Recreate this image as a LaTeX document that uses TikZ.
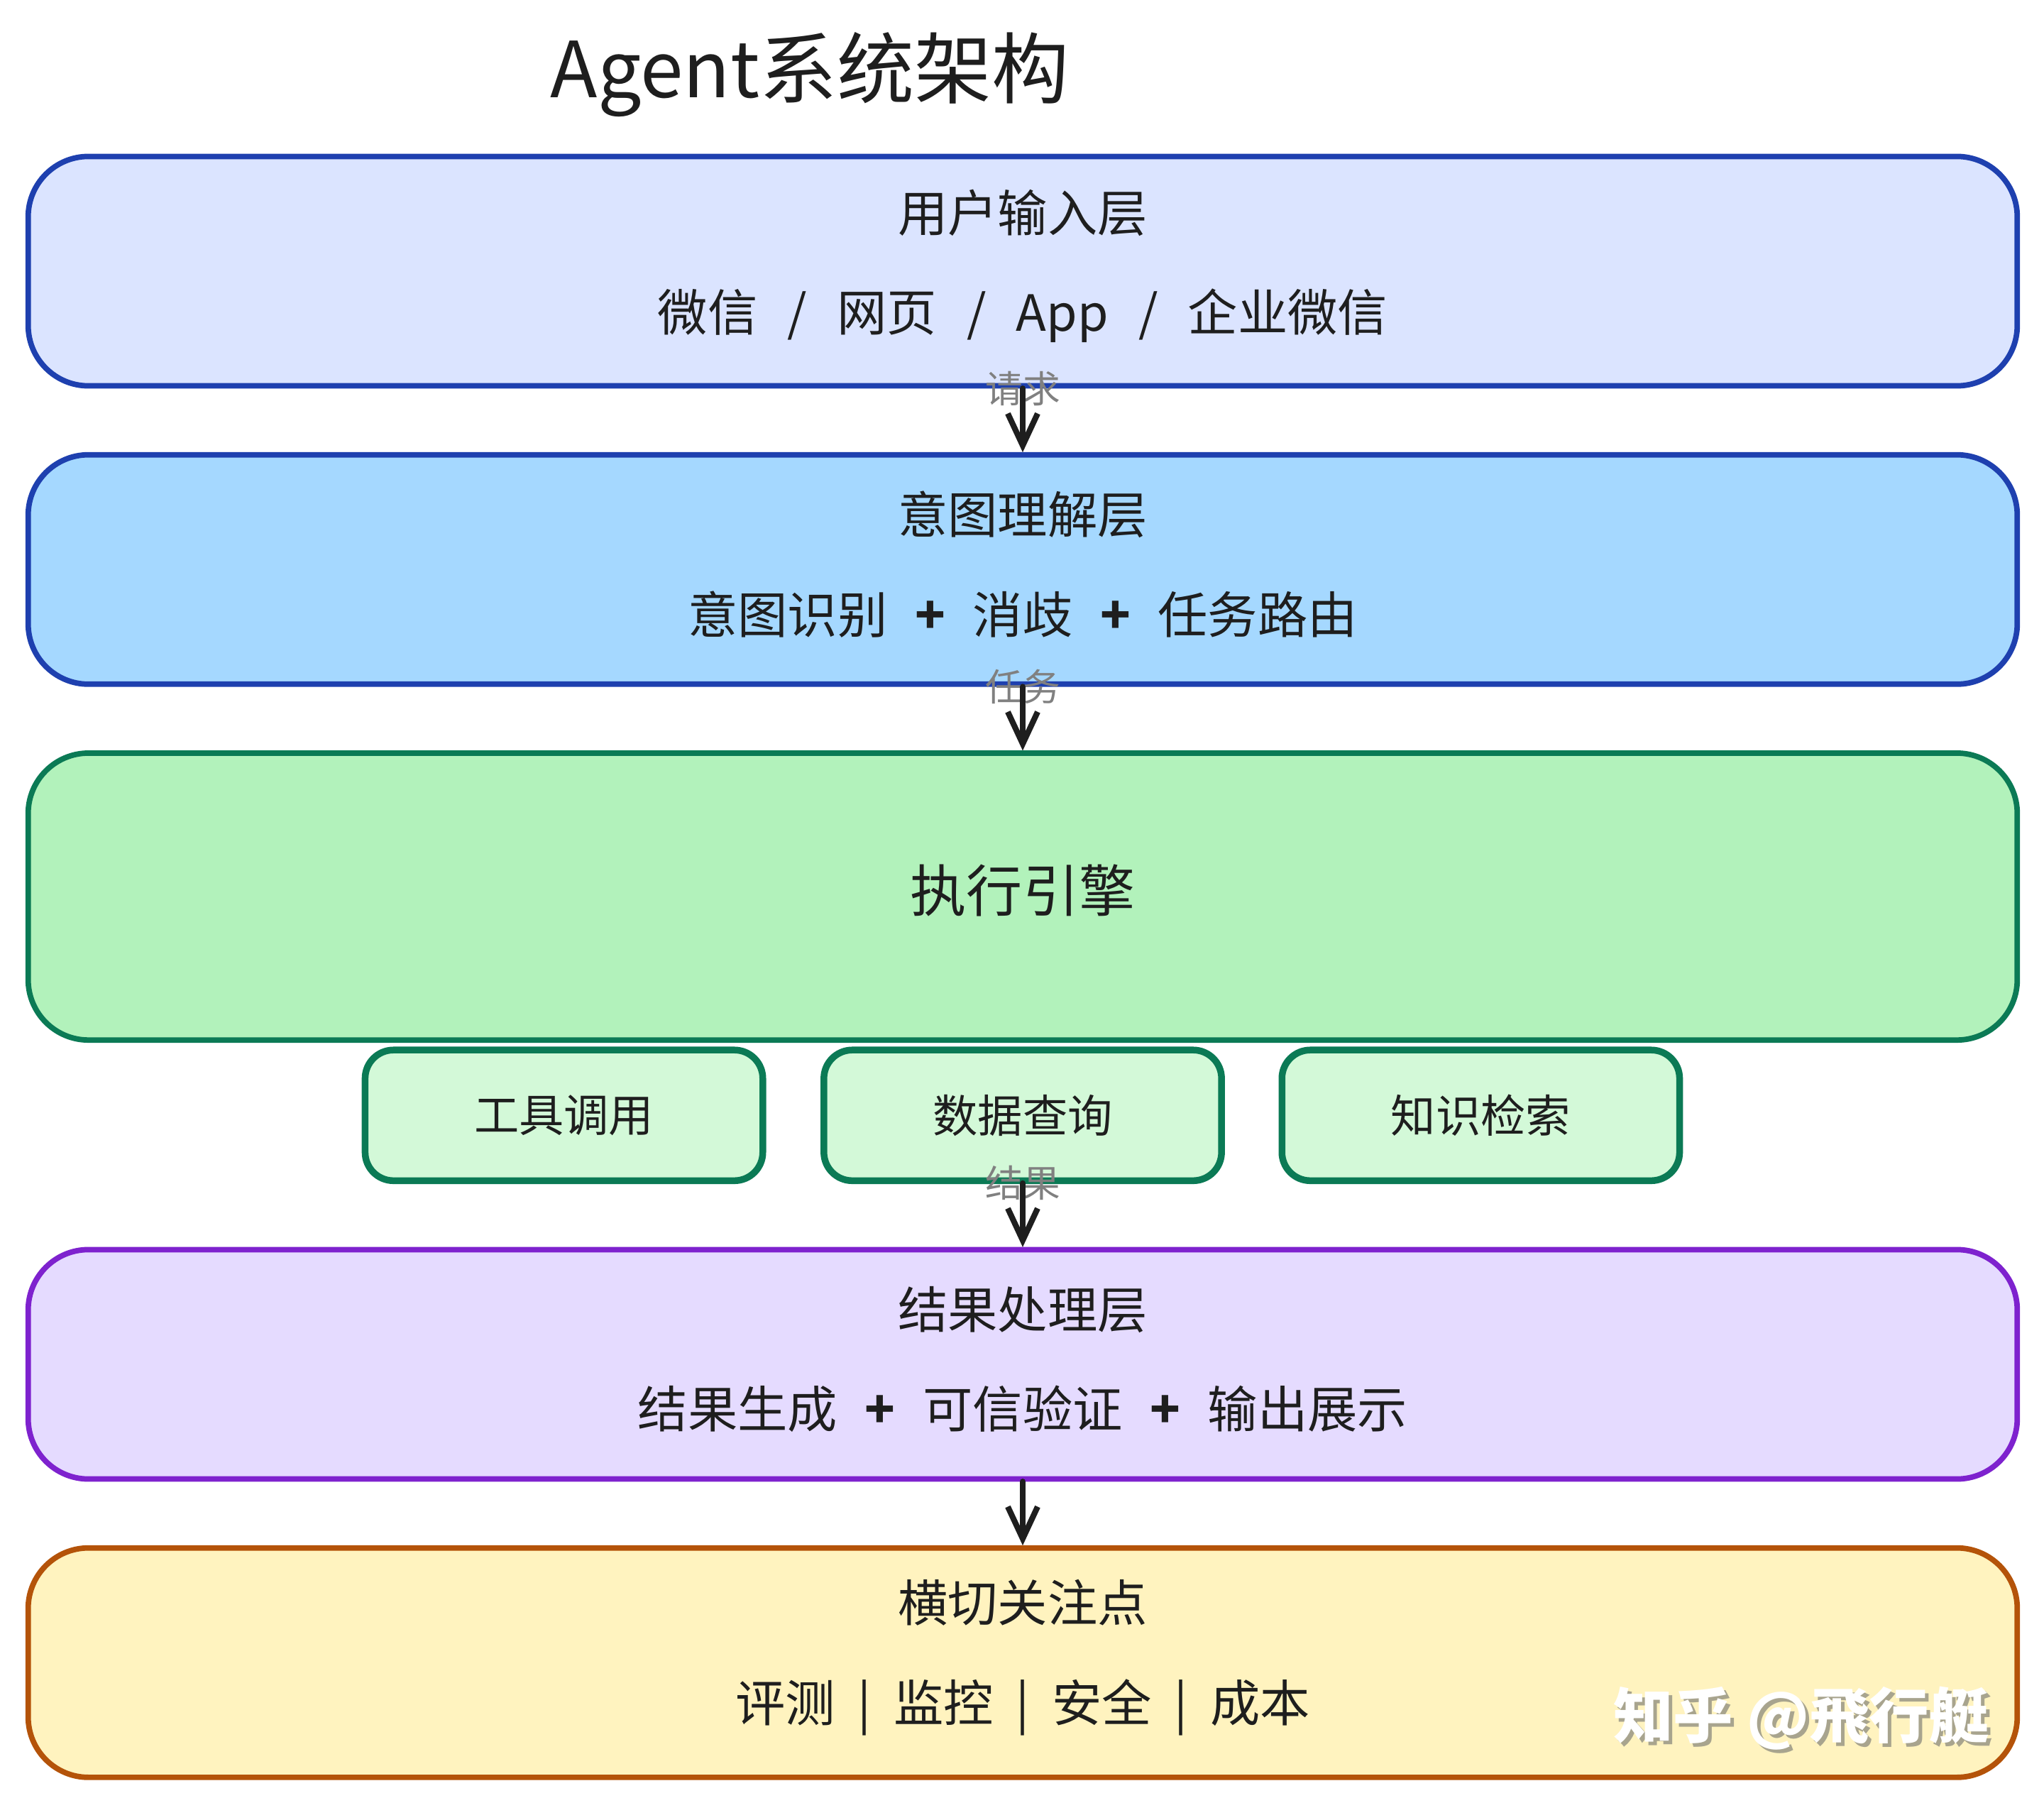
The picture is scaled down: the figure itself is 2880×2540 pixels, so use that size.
\documentclass[tikz,border=0pt]{standalone}
\usepackage{fontspec}
\setmainfont{Noto Sans CJK SC}
\usetikzlibrary{arrows.meta,positioning}
\definecolor{textdark}{HTML}{1E1E1E}
\definecolor{labelgray}{HTML}{808080}
\definecolor{blueline}{HTML}{1E40AF}
\definecolor{bluefill}{HTML}{DBE4FF}
\definecolor{bluesky}{HTML}{A5D8FF}
\definecolor{greenline}{HTML}{0B7A55}
\definecolor{greenfill}{HTML}{B2F2BB}
\definecolor{greensub}{HTML}{D3F9D8}
\definecolor{purpleline}{HTML}{7E22CE}
\definecolor{purplefill}{HTML}{E5DBFF}
\definecolor{orangeline}{HTML}{B45309}
\definecolor{yellowfill}{HTML}{FFF3BF}
\definecolor{shadowgray}{HTML}{A8A48E}

\begin{document}
\begin{tikzpicture}[x=0.01cm,y=-0.01cm,node distance=0.9cm,
  layer node/.style={rectangle, rounded corners=0.85cm, line width=2.2pt, outer sep=1pt, minimum width=28.01cm, minimum height=3.23cm, align=center, text=textdark, font=\fontsize{20pt}{40pt}\selectfont},
  sub node/.style={rectangle, rounded corners=0.4cm, line width=2.7pt, outer sep=1pt, draw=greenline, fill=greensub, minimum width=5.6cm, minimum height=1.84cm, text=textdark, font=\fontsize{18pt}{22pt}\selectfont},
  flow line/.style={-{Straight Barb[length=4.5mm,width=4.2mm]}, line width=2.3pt, line cap=round, draw=textdark},
  flow label/.style={behind path, text=labelgray, inner sep=0pt, font=\fontsize{15pt}{18pt}\selectfont}]
  \useasboundingbox (0,0) rectangle (2880,2540);
  % 各层
  \node (title) [text=textdark, font=\fontsize{31pt}{36pt}\selectfont] at (1141,105) {Agent系统架构};
  \node [layer node, draw=blueline, fill=bluefill] (user) at (1441,382) {用户输入层\\微信\hspace{0.6em}/\hspace{0.6em}网页\hspace{0.6em}/\hspace{0.6em}App\hspace{0.6em}/\hspace{0.6em}企业微信\vspace{4pt}};
  \node [layer node, draw=blueline, fill=bluesky] (intent) [below=of user] {意图理解层\\意图识别\hspace{0.55em}\textbf{+}\hspace{0.55em}消歧\hspace{0.55em}\textbf{+}\hspace{0.55em}任务路由\vspace{4pt}};
  \node [layer node, draw=greenline, fill=greenfill, minimum height=4.04cm, text depth=7pt, font=\fontsize{22.5pt}{27pt}\selectfont] (engine) [below=of intent] {执行引擎};
  \node [sub node] (query) [below=0.07cm of engine] {数据查询};
  \node [sub node] (tool) [left=0.79cm of query] {工具调用};
  \node [sub node] (know) [right=0.78cm of query] {知识检索};
  \node [layer node, draw=purpleline, fill=purplefill] (result) [below=of query] {结果处理层\\结果生成\hspace{0.55em}\textbf{+}\hspace{0.55em}可信验证\hspace{0.55em}\textbf{+}\hspace{0.55em}输出展示\vspace{4pt}};
  \node [layer node, draw=orangeline, fill=yellowfill] (concern) [below=of result] {横切关注点\\评测\hspace{0.45em}|\hspace{0.45em}监控\hspace{0.45em}|\hspace{0.45em}安全\hspace{0.45em}|\hspace{0.45em}成本\vspace{4pt}};

  \node (wmshadow) [text=shadowgray, font=\fontsize{24pt}{28pt}\selectfont\bfseries] at (2543,2426) {知乎 @飛行艇};
  \node (wm) [text=white, font=\fontsize{24pt}{28pt}\selectfont\bfseries] at (2538,2421) {知乎 @飛行艇};

  \path
  (user) edge [flow line] node [flow label, pos=0] {请求} (intent)
  (intent) edge [flow line] node [flow label, pos=0] {任务} (engine)
  (query) edge [flow line] node [flow label, pos=0] {结果} (result)
  (result) edge [flow line] (concern);
\end{tikzpicture}
\end{document}
